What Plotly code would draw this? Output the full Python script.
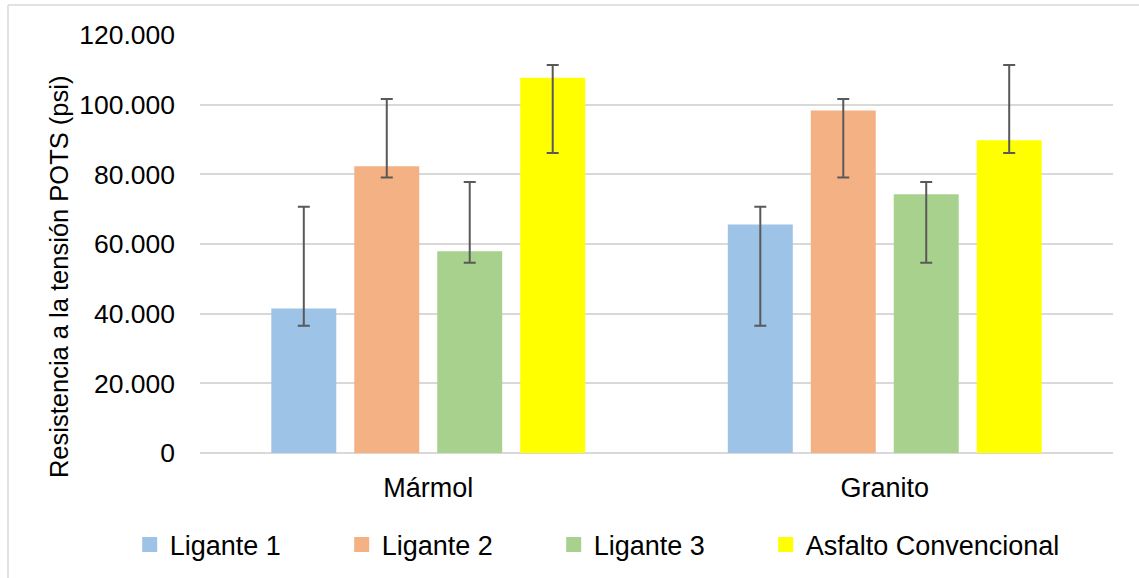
import plotly.graph_objects as go

categories = ["Mármol", "Granito"]
series_names = ["Ligante 1", "Ligante 2", "Ligante 3", "Asfalto Convencional"]
colors = ["#9DC3E6", "#F4B183", "#A9D18E", "#FFFF00"]

ligante1 = [41500, 65600]
ligante2 = [82300, 98300]
ligante3 = [57900, 74300]
asfalto = [107700, 89800]

# error bar extremes (absolute values) per series
ligante1_hi = [70700, 70700]
ligante1_lo = [36500, 36500]
ligante2_hi = [101600, 101600]
ligante2_lo = [79100, 79100]
ligante3_hi = [77800, 77800]
ligante3_lo = [54600, 54600]
asfalto_hi = [111400, 111400]
asfalto_lo = [86100, 86100]

values = [ligante1, ligante2, ligante3, asfalto]
highs = [ligante1_hi, ligante2_hi, ligante3_hi, asfalto_hi]
lows = [ligante1_lo, ligante2_lo, ligante3_lo, asfalto_lo]
legend_widths = [167, 167, 167, None]

FONT = "Liberation Sans, Arial, sans-serif"

fig = go.Figure()
for name, col, v, hi, lo in zip(series_names, colors, values, highs, lows):
    fig.add_trace(go.Bar(
        x=categories, y=v, name=name, legendgroup=name, showlegend=False,
        marker=dict(color=col, line=dict(width=0)),
        error_y=dict(
            type="data", symmetric=False,
            array=[h - a for h, a in zip(hi, v)],
            arrayminus=[a - l for a, l in zip(v, lo)],
            color="#595959", thickness=2, width=6,
        ),
    ))

# legend entries with larger square swatches
for name, col, lw in zip(series_names, colors, legend_widths):
    kw = dict(legendwidth=lw) if lw else {}
    fig.add_trace(go.Scatter(
        x=[None], y=[None], mode="markers", name=name, legendgroup=name,
        marker=dict(symbol="square", size=15, color=col, line=dict(width=0)),
        hoverinfo="skip", **kw,
    ))

fig.update_layout(
    width=1139, height=578,
    margin=dict(l=200, r=26, t=35, b=125, autoexpand=False),
    paper_bgcolor="white", plot_bgcolor="white",
    separators=",.",
    barmode="group", bargap=0.273, bargroupgap=0.217,
    font=dict(family=FONT, size=25, color="#000000"),
    xaxis=dict(
        type="category",
        showgrid=False, showline=False, zeroline=False,
        tickfont=dict(size=27, color="#000000"),
        ticklabelstandoff=16,
    ),
    yaxis=dict(
        range=[0, 120000], tickvals=[0, 20000, 40000, 60000, 80000, 100000, 120000],
        tickformat=",d", showgrid=True, gridcolor="#D9D9D9", gridwidth=1.5,
        zeroline=True, zerolinecolor="#D9D9D9", zerolinewidth=1.5,
        showline=False, automargin=False,
        tickfont=dict(size=26.5, color="#000000"),
        ticklabelstandoff=24,
    ),
    legend=dict(
        orientation="h", x=-0.077, xanchor="left", y=-0.22, yanchor="middle",
        font=dict(size=27, color="#000000"), traceorder="normal",
        itemsizing="trace",
    ),
    showlegend=True,
)

fig.add_annotation(
    text="Resistencia a la tensión POTS (psi)", textangle=-90,
    xref="paper", yref="paper", x=-0.1544, y=0.421,
    xanchor="center", yanchor="middle", showarrow=False,
    font=dict(size=25.5, color="#000000", family=FONT),
)

border = "#D9D9D9"
fig.add_shape(type="line", xref="paper", yref="paper",
              x0=-0.2103, x1=-0.2103, y0=-0.3, y1=1.0718,
              line=dict(color=border, width=1.5))
fig.add_shape(type="line", xref="paper", yref="paper",
              x0=-0.2103, x1=1.03, y0=1.0718, y1=1.0718,
              line=dict(color=border, width=1.5))

fig.write_html("out.html", config={"displayModeBar": False},
               post_script="document.body.style.margin='0';")
